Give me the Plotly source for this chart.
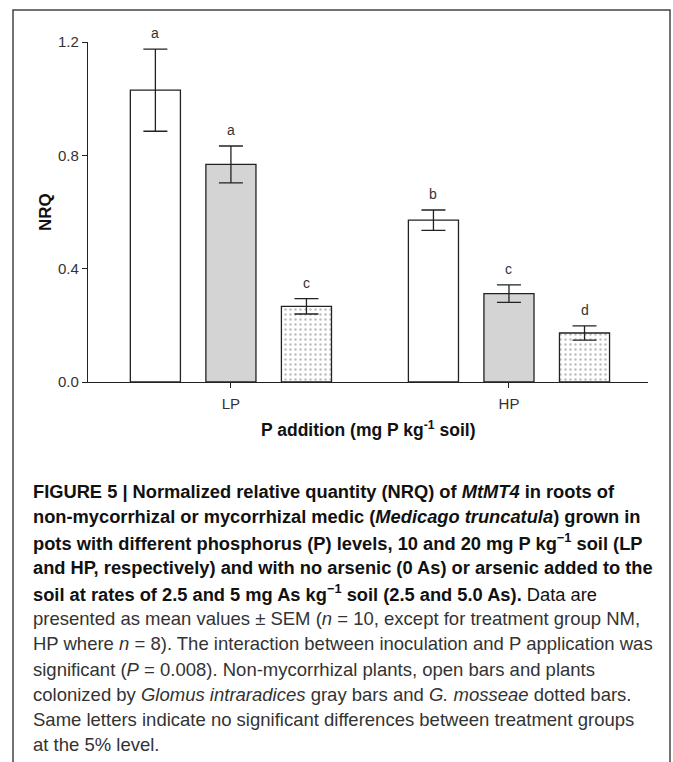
import plotly.graph_objects as go

groups = ["LP", "HP"]
series_names = ["Non-mycorrhizal", "G. intraradices", "G. mosseae"]
nm_vals = [1.03, 0.571]
gi_vals = [0.768, 0.312]
gm_vals = [0.267, 0.173]
nm_err = [0.145, 0.036]
gi_err = [0.065, 0.031]
gm_err = [0.027, 0.025]
nm_letters = ["a", "b"]
gi_letters = ["a", "c"]
gm_letters = ["c", "d"]
y_ticks = [0.0, 0.4, 0.8, 1.2]

caption_lines = [
    "<b>FIGURE 5 | Normalized relative quantity (NRQ) of <i>MtMT4</i> in roots of</b>",
    "<b>non-mycorrhizal or mycorrhizal medic (<i>Medicago truncatula</i>) grown in</b>",
    "<b>pots with different phosphorus (P) levels, 10 and 20 mg P kg<sup>−1</sup> soil (LP</b>",
    "<b>and HP, respectively) and with no arsenic (0 As) or arsenic added to the</b>",
    "<b>soil at rates of 2.5 and 5 mg As kg<sup>−1</sup> soil (2.5 and 5.0 As).</b> Data are",
    "presented as mean values ± SEM (<i>n</i> = 10, except for treatment group NM,",
    "HP where <i>n</i> = 8). The interaction between inoculation and P application was",
    "significant (<i>P</i> = 0.008). Non-mycorrhizal plants, open bars and plants",
    "colonized by <i>Glomus intraradices</i> gray bars and <i>G. mosseae</i> dotted bars.",
    "Same letters indicate no significant differences between treatment groups",
    "at the 5% level.",
]

W, H = 673, 762
L, R, T, B = 88, 25, 42, 380
pw, ph = W - L - R, H - T - B

bargap = 0.185
bargroupgap = 0.337
slot = (1 - bargap) / 3

fig = go.Figure()
styles = [
    dict(color="white", pattern=None),
    dict(color="#d4d4d4", pattern=None),
    dict(color="white", pattern=dict(shape=".", fgcolor="#777777", bgcolor="white", size=5, solidity=0.18)),
]
vals = [nm_vals, gi_vals, gm_vals]
errs = [nm_err, gi_err, gm_err]
letters = [nm_letters, gi_letters, gm_letters]
for i in range(3):
    marker = dict(color=styles[i]["color"], line=dict(color="#222222", width=1.3))
    if styles[i]["pattern"]:
        marker["pattern"] = styles[i]["pattern"]
    fig.add_trace(go.Bar(
        x=groups, y=vals[i], name=series_names[i], marker=marker,
        textposition="none", hoverinfo="skip",
        error_y=dict(type="data", array=errs[i], color="#222222", thickness=1.3, width=12),
    ))

annotations = []
for i in range(3):
    for g in range(2):
        annotations.append(dict(
            x=g + (i - 1) * slot, y=vals[i][g] + errs[i][g], xref="x", yref="y",
            text=letters[i][g], showarrow=False, yanchor="bottom", yshift=6,
            font=dict(family="Liberation Sans, Arial", size=14, color="#333333"),
        ))

# x-axis title
annotations.append(dict(
    x=0.5, y=(382 - 429) / ph, xref="paper", yref="paper",
    text="<b>P addition (mg P kg<sup>-1</sup> soil)</b>", showarrow=False,
    xanchor="center", yanchor="middle",
    font=dict(family="Liberation Sans, Arial", size=17.5, color="#111111"),
))
# y-axis title
annotations.append(dict(
    x=(45 - L) / pw, y=(382 - 212) / ph, xref="paper", yref="paper",
    text="<b>NRQ</b>", showarrow=False, textangle=-90,
    xanchor="center", yanchor="middle",
    font=dict(family="Liberation Sans, Arial", size=17, color="#111111"),
))

cap_y = [491.7, 516.7, 541.7, 567.3, 592.7, 618.3, 643.3, 669, 694.3, 719.3, 744.3]
for k, (line, yy) in enumerate(zip(caption_lines, cap_y)):
    annotations.append(dict(
        x=(31 - L) / pw, y=(382 - yy) / ph, xref="paper", yref="paper",
        text=line, showarrow=False, xanchor="left", yanchor="middle", align="left",
        font=dict(family="Liberation Sans, Arial", size=18.3 if k < 5 else 18.5,
                  color="#111111" if k < 5 else "#333333"),
    ))

shapes = [dict(
    type="rect", xref="paper", yref="paper",
    x0=(13 - L) / pw, x1=(670 - L) / pw, y0=(382 - 800) / ph, y1=(382 - 10) / ph,
    line=dict(color="#444444", width=1.5), fillcolor="rgba(0,0,0,0)", layer="below",
)]

fig.update_layout(
    width=W, height=H,
    margin=dict(l=L, r=R, t=T, b=B),
    paper_bgcolor="white", plot_bgcolor="white",
    barmode="group", bargap=bargap, bargroupgap=bargroupgap,
    showlegend=False,
    annotations=annotations, shapes=shapes,
    xaxis=dict(
        range=[-0.514, 1.5], showline=True, linecolor="#222222", linewidth=1.3,
        ticks="outside", ticklen=5, tickcolor="#222222", tickwidth=1.3,
        ticklabelstandoff=3,
        tickfont=dict(family="Liberation Sans, Arial", size=15, color="#333333"),
        showgrid=False, zeroline=False,
    ),
    yaxis=dict(
        range=[0, 1.2], tickvals=y_ticks, ticktext=[f"{v:.1f}" for v in y_ticks],
        showline=True, linecolor="#222222", linewidth=1.3,
        ticks="outside", ticklen=5, tickcolor="#222222", tickwidth=1.3,
        tickfont=dict(family="Liberation Sans, Arial", size=15, color="#333333"),
        showgrid=False, zeroline=False,
    ),
)

fig.write_html(
    "out.html",
    config={"displayModeBar": False},
    post_script="document.body.style.margin='0';document.body.style.overflow='hidden';",
)
